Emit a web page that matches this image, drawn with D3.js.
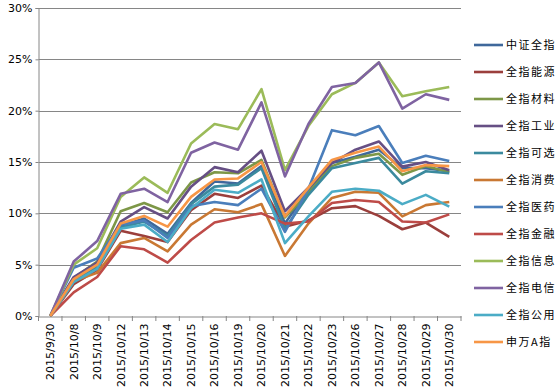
<!DOCTYPE html>
<html>
<head>
<meta charset="utf-8">
<script src="https://d3js.org/d3.v7.min.js"></script>
<style>
  body { margin: 0; background: #fff; }
  .tick text { font-family: "DejaVu Sans", sans-serif; font-size: 11px; fill: #000; }
  .legend text { font-family: "Noto Sans CJK SC", sans-serif; font-size: 11px; letter-spacing: 1.5px; fill: #000; }
</style>
</head>
<body>
<script>
// dates on the x axis
var dates = ["2015/9/30", "2015/10/8", "2015/10/9", "2015/10/12", "2015/10/13", "2015/10/14",
  "2015/10/15", "2015/10/16", "2015/10/19", "2015/10/20", "2015/10/21", "2015/10/22",
  "2015/10/23", "2015/10/26", "2015/10/27", "2015/10/28", "2015/10/29", "2015/10/30"];

var yTicks = [0, 5, 10, 15, 20, 25, 30];

// series names, in legend order
var names = ["中证全指", "全指能源", "全指材料", "全指工业", "全指可选", "全指消费",
  "全指医药", "全指金融", "全指信息", "全指电信", "全指公用", "申万A指"];

// cumulative returns, percent
var zzqz = [0, 3.6, 5.0, 8.8, 9.5, 8.0, 11.0, 13.1, 12.9, 14.6, 9.0, 12.3, 14.9, 15.5, 16.2, 14.4, 14.4, 14.1];
var nengyuan = [0, 3.1, 4.5, 8.3, 7.8, 7.2, 10.3, 11.9, 11.5, 12.7, 8.7, 9.3, 10.5, 10.7, 9.75, 8.45, 9.1, 7.7];
var cailiao = [0, 3.7, 5.3, 10.2, 11.0, 10.1, 13.0, 14.0, 13.9, 15.2, 9.6, 12.0, 14.6, 15.4, 15.8, 13.75, 14.6, 14.0];
var gongye = [0, 3.8, 5.2, 9.2, 10.6, 9.5, 12.6, 14.5, 14.0, 16.1, 10.2, 12.5, 14.9, 16.2, 17.0, 14.55, 15.0, 14.2];
var kexuan = [0, 3.5, 4.8, 8.6, 9.2, 7.8, 10.9, 12.6, 12.8, 14.4, 8.5, 11.8, 14.4, 14.9, 15.4, 12.9, 14.1, 13.9];
var xiaofei = [0, 3.4, 4.2, 7.1, 7.6, 6.3, 8.9, 10.4, 10.1, 10.9, 5.85, 9.0, 11.5, 12.1, 12.0, 9.7, 10.8, 11.1];
var yiyao = [0, 4.7, 5.6, 8.9, 9.3, 7.6, 10.7, 11.1, 10.8, 12.4, 8.2, 12.4, 18.1, 17.6, 18.5, 14.9, 15.6, 15.1];
var jinrong = [0, 2.3, 3.8, 6.8, 6.5, 5.2, 7.4, 9.1, 9.6, 10.0, 9.0, 9.2, 11.0, 11.3, 11.1, 9.2, 9.1, 9.9];
var xinxi = [0, 5.0, 6.6, 11.6, 13.5, 12.0, 16.8, 18.7, 18.2, 22.1, 14.2, 18.5, 21.6, 22.7, 24.7, 21.4, 21.9, 22.3];
var dianxin = [0, 5.3, 7.3, 11.9, 12.4, 11.1, 15.9, 16.9, 16.2, 20.8, 13.6, 18.7, 22.3, 22.7, 24.7, 20.2, 21.6, 21.05];
var gongyong = [0, 3.3, 4.6, 8.5, 8.9, 7.2, 10.5, 12.3, 12.0, 13.3, 7.1, 9.7, 12.1, 12.4, 12.2, 10.9, 11.8, 10.65];
var swa = [0, 3.6, 5.0, 9.0, 9.75, 8.7, 11.6, 13.3, 13.4, 15.0, 9.7, 12.5, 15.2, 15.9, 16.5, 14.1, 14.7, 14.6];

var colors = ["#3F689B", "#9B3F3C", "#7D9747", "#664F84", "#3B8A9E", "#C97833",
  "#4A7EBB", "#BE4B48", "#9BBB59", "#7F63A1", "#4BACC6", "#F79646"];

var seriesValues = [zzqz, nengyuan, cailiao, gongye, kexuan, xiaofei,
  yiyao, jinrong, xinxi, dianxin, gongyong, swa];

var width = 559, height = 388;
var plotLeft = 38.5, plotRight = 461, plotTop = 8, plotBottom = 316;

var svg = d3.select("body").append("svg")
  .attr("width", width)
  .attr("height", height);

var x = d3.scaleBand().domain(dates).range([plotLeft, plotRight]);
var y = d3.scaleLinear().domain([0, 30]).range([plotBottom, plotTop]);

// gridlines + y labels
var yAxis = svg.append("g")
  .attr("transform", "translate(" + plotLeft + ",0)")
  .call(d3.axisLeft(y).tickValues(yTicks).tickSize(3).tickPadding(3)
    .tickFormat(function(d){ return d + "%"; }));
yAxis.select(".domain").attr("stroke", "#868686");
yAxis.selectAll(".tick line").attr("stroke", "#868686");

svg.append("g").selectAll("line")
  .data(yTicks.slice(1))
  .enter().append("line")
  .attr("x1", plotLeft).attr("x2", plotRight)
  .attr("y1", function(d){ return Math.round(y(d)) + 0.5; })
  .attr("y2", function(d){ return Math.round(y(d)) + 0.5; })
  .attr("stroke", "#868686");

// x axis with ticks between categories
var xAxis = svg.append("g")
  .attr("transform", "translate(0," + (plotBottom + 0.5) + ")")
  .call(d3.axisBottom(x).tickSize(0).tickSizeOuter(0));
xAxis.select(".domain").attr("stroke", "#868686");
xAxis.selectAll(".tick text")
  .attr("transform", "rotate(-90)")
  .attr("text-anchor", "end")
  .attr("x", -7)
  .attr("y", 0)
  .attr("dy", "0.35em");

svg.append("g").selectAll("line")
  .data(dates.concat([null]))
  .enter().append("line")
  .attr("x1", function(d, i){ return plotLeft + i * x.step(); })
  .attr("x2", function(d, i){ return plotLeft + i * x.step(); })
  .attr("y1", plotBottom).attr("y2", plotBottom + 5)
  .attr("stroke", "#868686");

// series lines
var line = d3.line()
  .x(function(d, i){ return x(dates[i]) + x.bandwidth() / 2; })
  .y(function(d){ return y(d); });

svg.append("g").selectAll("path")
  .data(seriesValues)
  .enter().append("path")
  .attr("d", line)
  .attr("fill", "none")
  .attr("stroke", function(d, i){ return colors[i]; })
  .attr("stroke-width", 2.6)
  .attr("stroke-linejoin", "round");

// legend
var legend = svg.append("g").attr("class", "legend");
var rows = legend.selectAll("g")
  .data(names)
  .enter().append("g")
  .attr("transform", function(d, i){ return "translate(474," + (45 + i * 27) + ")"; });
rows.append("line")
  .attr("x1", 0).attr("x2", 29)
  .attr("stroke", function(d, i){ return colors[i]; })
  .attr("stroke-width", 2.6);
rows.append("text")
  .attr("x", 32)
  .attr("dy", "0.36em")
  .text(function(d){ return d; });
</script>
</body>
</html>
